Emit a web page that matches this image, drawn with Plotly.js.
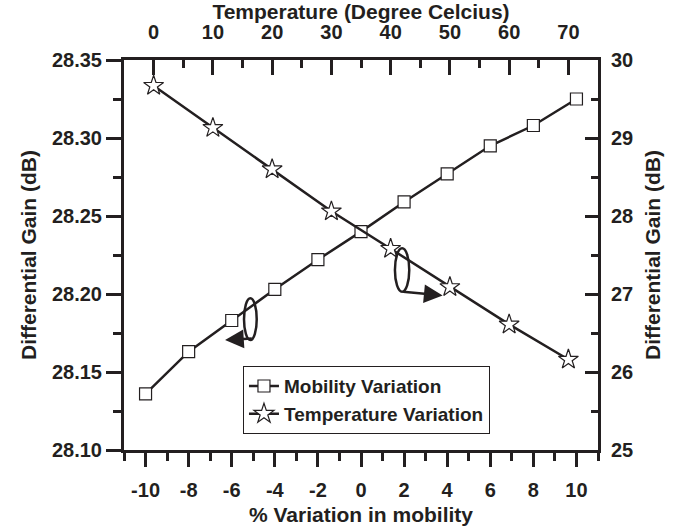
<!DOCTYPE html>
<html>
<head>
<meta charset="utf-8">
<script src="https://cdn.plot.ly/plotly-3.0.1.min.js"></script>
<style>html,body{margin:0;padding:0;background:#fff;}#chart{width:676px;height:527px;}</style>
</head>
<body>
<div id="chart"></div>
<script>
// Data
const mobilityPct = [-10, -8, -6, -4, -2, 0, 2, 4, 6, 8, 10];
const gainMobility = [28.136, 28.163, 28.183, 28.203, 28.222, 28.240, 28.259, 28.277, 28.295, 28.308, 28.325];
const temperatureC = [0, 10, 20, 30, 40, 50, 60, 70];
const gainTemperature = [29.67, 29.13, 28.60, 28.06, 27.58, 27.09, 26.61, 26.16];
const seriesNames = ["Mobility Variation", "Temperature Variation"];
const mobilityTickVals = [-10, -8, -6, -4, -2, 0, 2, 4, 6, 8, 10];
const mobilityTickText = ['-10', '-8', '-6', '-4', '-2', '0', '2', '4', '6', '8', '10'];

const ink = '#231f20';
const fnt = (s) => ({family: 'Liberation Sans, Arial, sans-serif', size: s, color: ink, weight: 'bold'});

const traces = [
  {x: mobilityPct, y: gainMobility, xaxis: 'x', yaxis: 'y', name: '<b>' + seriesNames[0] + '</b>', type: 'scatter', mode: 'lines+markers',
   line: {color: ink, width: 2.5},
   marker: {symbol: 'square', size: 12, color: '#fff', line: {color: ink, width: 1.2}}},
  {x: temperatureC, y: gainTemperature, xaxis: 'x2', yaxis: 'y2', name: '<b>' + seriesNames[1] + '</b>', type: 'scatter', mode: 'lines+markers',
   line: {color: ink, width: 2.5},
   marker: {symbol: 'star', size: 15, color: '#fff', line: {color: ink, width: 1.2}}}
];

const axBase = {showline: true, linecolor: ink, linewidth: 3, showgrid: false, zeroline: false, tickcolor: ink, tickwidth: 3, tickfont: fnt(20)};

const layout = {
  width: 676, height: 527,
  margin: {l: 124, r: 78, t: 60, b: 77},
  paper_bgcolor: '#fff', plot_bgcolor: '#fff',
  showlegend: true,
  legend: {x: 0.251, y: 0.215, xanchor: 'left', yanchor: 'top', bgcolor: '#fff', bordercolor: ink, borderwidth: 1,
           font: fnt(19), tracegroupgap: 0, itemwidth: 30},
  xaxis: Object.assign({}, axBase, {range: [-11, 11], tickmode: 'array', tickvals: mobilityTickVals, ticktext: mobilityTickText,
    ticks: 'outside', ticklen: 14, ticklabelstandoff: 6,
    minor: {dtick: 1, tick0: 0, ticks: 'outside', ticklen: 8, tickwidth: 3, tickcolor: ink},
    title: {text: '% Variation in mobility', font: fnt(21), standoff: 8}}),
  xaxis2: Object.assign({}, axBase, {overlaying: 'x', side: 'top', range: [-5, 75], dtick: 10, tick0: 0, ticks: 'inside', ticklen: 15, ticklabelstandoff: 10,
    minor: {dtick: 5, tick0: 0, ticks: 'inside', ticklen: 8, tickwidth: 3, tickcolor: ink},
    title: {text: 'Temperature (Degree Celcius)', font: fnt(21), standoff: 8}}),
  yaxis: Object.assign({}, axBase, {range: [28.10, 28.35], dtick: 0.05, tick0: 28.10, tickformat: '.2f', ticks: 'outside', ticklen: 15,
    minor: {dtick: 0.025, tick0: 28.10, ticks: 'outside', ticklen: 8, tickwidth: 3, tickcolor: ink},
    title: {text: 'Differential Gain (dB)', font: fnt(21), standoff: 10}}),
  yaxis2: Object.assign({}, axBase, {overlaying: 'y', side: 'right', range: [25, 30], dtick: 1, tick0: 25, ticks: 'inside', ticklen: 13, ticklabelstandoff: 6,
    minor: {dtick: 0.5, tick0: 25, ticks: 'inside', ticklen: 7, tickwidth: 3, tickcolor: ink},
    title: {text: 'Differential Gain (dB)', font: fnt(21), standoff: 14}}),
  shapes: [
    {type: 'circle', xref: 'x', yref: 'y', x0: -5.43, x1: -4.84, y0: 28.1705, y1: 28.1972, line: {color: ink, width: 2.5}},
    {type: 'circle', xref: 'x', yref: 'y', x0: 1.575, x1: 2.24, y0: 28.2015, y1: 28.2293, line: {color: ink, width: 2.5}}
  ],
  annotations: [
    {xref: 'x', yref: 'y', axref: 'x', ayref: 'y', x: -6.31, y: 28.1705, ax: -5.0, ay: 28.1716, text: '', showarrow: true,
     arrowhead: 2, arrowsize: 1.5, arrowwidth: 2.5, arrowcolor: ink},
    {xref: 'x', yref: 'y', axref: 'x', ayref: 'y', x: 3.79, y: 28.199, ax: 1.886, ay: 28.2015, text: '', showarrow: true,
     arrowhead: 2, arrowsize: 1.5, arrowwidth: 2.5, arrowcolor: ink}
  ]
};

Plotly.newPlot('chart', traces, layout, {displayModeBar: false, staticPlot: true});
</script>
</body>
</html>
